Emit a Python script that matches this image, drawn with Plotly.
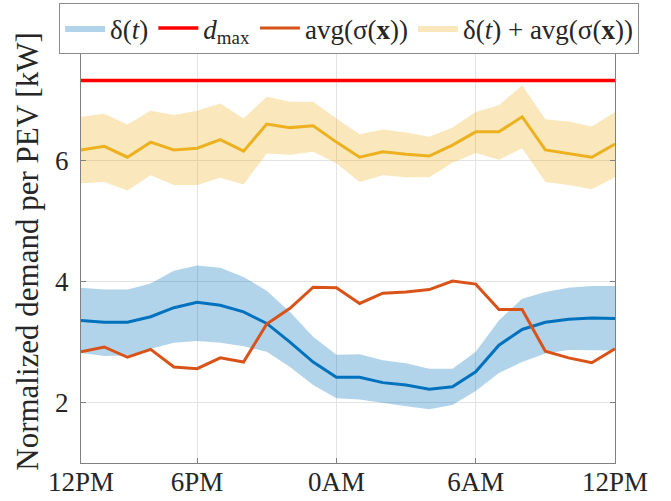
import plotly.graph_objects as go

hours = list(range(1, 25))
tick_vals = [1, 6, 12, 18, 24]
tick_text = ["12PM", "6PM", "0AM", "6AM", "12PM"]

d_max = 7.33

delta_mean = [3.36, 3.33, 3.33, 3.42, 3.57, 3.66, 3.61, 3.50, 3.31, 3.00, 2.67, 2.42,
              2.42, 2.33, 2.29, 2.22, 2.26, 2.51, 2.95, 3.21, 3.33, 3.38, 3.40, 3.39]
delta_upper = [3.90, 3.87, 3.87, 3.97, 4.18, 4.27, 4.23, 4.08, 3.85, 3.50, 3.09, 2.79,
               2.80, 2.70, 2.65, 2.56, 2.56, 2.84, 3.36, 3.72, 3.83, 3.90, 3.93, 3.93]
delta_lower = [2.82, 2.77, 2.78, 2.89, 2.99, 3.02, 2.99, 2.93, 2.84, 2.59, 2.29, 2.07,
               2.05, 1.99, 1.94, 1.89, 1.96, 2.19, 2.49, 2.67, 2.81, 2.87, 2.87, 2.86]

avg_sigma = [2.84, 2.92, 2.75, 2.88, 2.59, 2.56, 2.74, 2.67, 3.30, 3.56, 3.91, 3.90,
             3.64, 3.81, 3.83, 3.87, 4.01, 3.96, 3.54, 3.54, 2.85, 2.74, 2.66, 2.89]

total_mean = [6.18, 6.24, 6.06, 6.31, 6.18, 6.21, 6.35, 6.16, 6.61, 6.55, 6.58, 6.31,
              6.06, 6.15, 6.11, 6.08, 6.26, 6.48, 6.48, 6.73, 6.18, 6.12, 6.06, 6.28]
total_upper = [6.73, 6.78, 6.60, 6.83, 6.76, 6.83, 6.95, 6.70, 7.06, 6.98, 6.98, 6.70,
               6.44, 6.52, 6.47, 6.40, 6.55, 6.81, 6.92, 7.25, 6.69, 6.65, 6.57, 6.81]
total_lower = [5.63, 5.65, 5.51, 5.76, 5.60, 5.60, 5.72, 5.61, 6.12, 6.10, 6.15, 5.96,
               5.65, 5.76, 5.73, 5.73, 5.97, 6.13, 6.02, 6.21, 5.65, 5.60, 5.53, 5.73]

BLUE = "#0072BD"
BLUE_FILL = "rgba(0,114,189,0.30)"
ORANGE = "#D95319"
YELLOW = "#EDB120"
YELLOW_FILL = "rgba(237,177,32,0.30)"
RED = "#FF0000"
FONT = "Liberation Serif"

fig = go.Figure()

# bands
fig.add_trace(go.Scatter(
    x=hours + hours[::-1], y=delta_upper + delta_lower[::-1],
    fill="toself", fillcolor=BLUE_FILL, line=dict(width=0), mode="lines",
    name="δ(<i>t</i>)", legendrank=1, hoverinfo="skip"))
fig.add_trace(go.Scatter(
    x=hours + hours[::-1], y=total_upper + total_lower[::-1],
    fill="toself", fillcolor=YELLOW_FILL, line=dict(width=0), mode="lines",
    name="δ(<i>t</i>) + avg(σ(<b>x</b>))", legendrank=4, hoverinfo="skip"))

# d_max
fig.add_trace(go.Scatter(
    x=[hours[0], hours[-1]], y=[d_max, d_max], mode="lines",
    line=dict(color=RED, width=3.5), name="<i>d</i><sub>max</sub>", legendrank=2))

# mean lines
fig.add_trace(go.Scatter(x=hours, y=delta_mean, mode="lines",
                         line=dict(color=BLUE, width=3), showlegend=False))
fig.add_trace(go.Scatter(x=hours, y=total_mean, mode="lines",
                         line=dict(color=YELLOW, width=3), showlegend=False))
fig.add_trace(go.Scatter(x=hours, y=avg_sigma, mode="lines",
                         line=dict(color=ORANGE, width=3), name="avg(σ(<b>x</b>))",
                         legendrank=3))

fig.update_layout(
    width=671, height=501,
    margin=dict(l=81, r=56, t=40, b=38, autoexpand=False),
    paper_bgcolor="white", plot_bgcolor="white",
    font=dict(family=FONT, size=27, color="#262626"),
    showlegend=True,
    legend=dict(
        orientation="h", x=-0.041, y=1.0875, xanchor="left", yanchor="top",
        bgcolor="white", bordercolor="#8c8c8c", borderwidth=1,
        font=dict(family=FONT, size=27, color="#262626"),
        itemwidth=40, tracegroupgap=0,
    ),
)

fig.update_xaxes(
    range=[1, 24], tickvals=tick_vals, ticktext=tick_text,
    showgrid=True, gridcolor="#e3e3e3", gridwidth=1,
    showline=True, linecolor="#808080", linewidth=1, mirror="allticks",
    ticks="inside", ticklen=5, tickcolor="#808080",
    zeroline=False, tickfont=dict(family=FONT, size=27, color="#262626"),
    automargin=False, ticklabelstandoff=-5,
)
fig.update_yaxes(
    range=[1, 8], tickvals=[2, 4, 6], ticktext=["2", "4", "6"],
    showgrid=True, gridcolor="#e3e3e3", gridwidth=1,
    showline=True, linecolor="#808080", linewidth=1, mirror="allticks",
    ticks="inside", ticklen=5, tickcolor="#808080",
    zeroline=False, tickfont=dict(family=FONT, size=27, color="#262626"),
    ticklabelstandoff=6, automargin=False,
    title=dict(text="Normalized demand per PEV [kW]", standoff=7,
               font=dict(family=FONT, size=31, color="#262626")),
)

fig.write_html("out.html", config={"displayModeBar": False},
               post_script="document.body.style.margin='0px';")
